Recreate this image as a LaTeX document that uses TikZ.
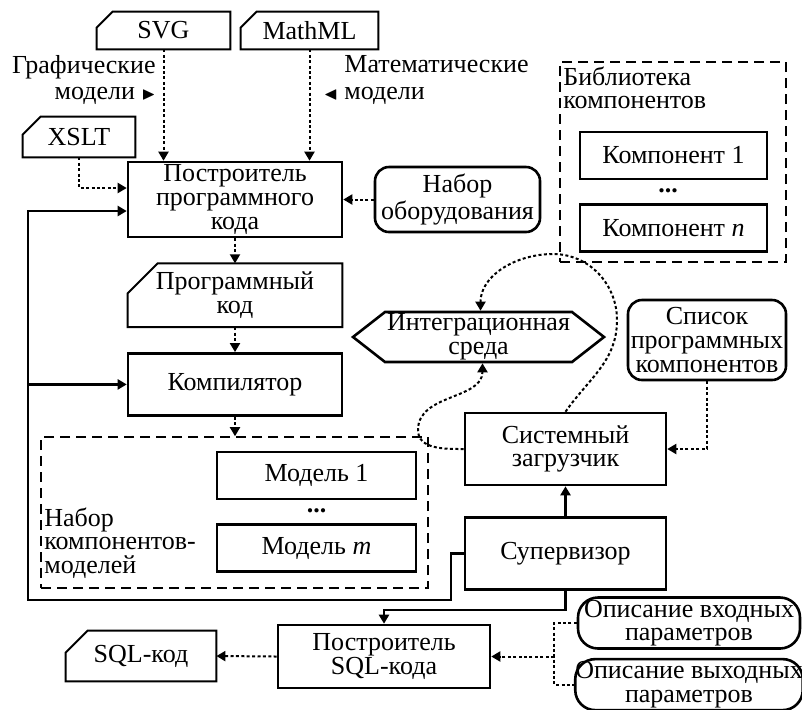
\documentclass[tikz,border=0pt]{standalone}
\usepackage{amssymb}
\usepackage{fontspec}
\setmainfont{Liberation Serif}
\usetikzlibrary{arrows.meta,positioning,calc,shapes.symbols}
\tikzset{
  blk/.style={draw,rectangle,line width=1.3pt,align=center,inner sep=1pt},
  rblk/.style={blk,rounded corners=7pt},
  docblk/.style={rectangle,align=center,inner sep=1pt},
  docln/.style={line width=1pt},
  grpblk/.style={draw,rectangle,line width=0.8pt,dash pattern=on 5pt off 3pt},
  lbl/.style={inner sep=0pt},
  arr/.style={-{Triangle[length=4.5pt,width=5pt]},line width=1.2pt},
  dln/.style={line width=1pt,dash pattern=on 1.5pt off 1.2pt},
  darr/.style={dln,-{Triangle[length=4.5pt,width=5pt]}}
}

\begin{document}
\begin{tikzpicture}[x=0.5pt,y=-0.5pt,font=\fontsize{13}{11.8}\selectfont]
  \useasboundingbox (0,0) rectangle (802,709);

  % documents
  \node[docblk, minimum width=66.5pt, minimum height=18.5pt] (svg) at (163.5,30.5) {SVG};
  \node[docblk, minimum width=68.5pt, minimum height=18.5pt] (mathml) at (309.5,30.5) {MathML};
  \node[docblk, minimum width=56pt, minimum height=20pt] (xslt) at (79,137) {XSLT};

  \node[lbl, align=right, anchor=east] (graflbl) at (156,80) {Графические\\[1.5pt]модели {\small$\blacktriangleright$}};
  \node[lbl, align=left, anchor=west] (mathlbl) at (344,80) {Математические\\[1.5pt]\llap{{\small$\blacktriangleleft$}\ }модели};

  % main column
  \node[blk, minimum width=107pt, minimum height=37.5pt] (builder) at (235,199.5) {Построитель\\программного\\кода};
  \node[docblk, minimum width=107pt, minimum height=31.5pt, below=12.5pt of builder] (prog) {Программный\\код};
  \node[blk, minimum width=107pt, minimum height=31pt, below=12.5pt of prog] (compiler) {Компилятор};
  \node[rblk, minimum width=82.5pt, minimum height=32.5pt] (equip) at (457.5,199.5) {Набор\\оборудования};

  % component library
  \node[grpblk, minimum width=113pt, minimum height=100pt] (library) at (673,162) {};
  \node[lbl, align=left, anchor=north west] (liblbl) at (563,66) {Библиотека\\компонентов};
  \node[blk, minimum width=93.5pt, minimum height=23.5pt] (comp1) at (673.5,155.5) {Компонент 1};
  \node[blk, minimum width=93.5pt, minimum height=23.5pt, below=11.5pt of comp1] (compn) {Компонент \textit{n}};
  \node[lbl] (compdots) at (668,191) {\textbf{...}};

  % model set
  \node[grpblk, minimum width=193.5pt, minimum height=75.5pt] (models) at (234.5,512.5) {};
  \node[lbl, align=left, anchor=west] (modlbl) at (44,543) {Набор\\компонентов-\\моделей};
  \node[blk, minimum width=99.5pt, minimum height=23.5pt] (model1) at (316.5,475.5) {Модель 1};
  \node[blk, minimum width=99.5pt, minimum height=23.5pt, below=11.5pt of model1] (modelm) {Модель \textit{m}};
  \node[lbl] (moddots) at (316.5,511) {\textbf{...}};

  % runtime
  \node[blk, signal, signal to=west and east, signal pointer angle=76, inner sep=0pt,
        minimum width=125.5pt, minimum height=25pt] (integ) at (478.5,337) {Интеграционная\\среда};
  \node[rblk, minimum width=79pt, minimum height=40pt] (complist) at (707,340) {Список\\программных\\компонентов};
  \node[blk, minimum width=100.5pt, minimum height=36pt] (loader) at (565.5,449) {Системный\\загрузчик};
  \node[blk, minimum width=100.5pt, minimum height=36pt, below=15pt of loader] (super) {Супервизор};

  % sql
  \node[blk, minimum width=106pt, minimum height=31.5pt] (sqlb) at (384,656.5) {Построитель\\SQL-кода};
  \node[docblk, minimum width=75pt, minimum height=25pt] (sqlcode) at (141,656) {SQL-код};
  \node[rblk, rounded corners=10pt, inner sep=0pt, minimum width=111pt, minimum height=25.5pt] (inpar) at (689,623) {Описание входных\\параметров};
  \node[rblk, rounded corners=10pt, inner sep=0pt, minimum width=111pt, minimum height=25.5pt, below=4pt of inpar] (outpar) {Описание выходных\\параметров};

  % document outlines
  \foreach \d/\c in {svg/8pt,mathml/8pt,xslt/9pt,prog/15pt,sqlcode/11pt}
    \draw[docln] ($(\d.north west)+(\c,0)$) -- (\d.north east) -- (\d.south east)
      -- (\d.south west) -- ($(\d.north west)+(0,-\c)$) -- cycle;

  % data flow
  \draw[darr] (svg.south) -- (svg.south |- builder.north);
  \draw[darr] (mathml.south) -- (mathml.south |- builder.north);
  \draw[darr] (xslt.south) |- ([yshift=5.75pt]builder.west);
  \draw[darr] (equip.west) -- (builder.east);
  \draw[darr] (builder.south) -- (prog.north);
  \draw[darr] (prog.south) -- (compiler.north);
  \draw[darr] (compiler.south) -- (compiler.south |- models.north);
  \draw[darr] (complist.south) |- (loader.east);
  \draw[darr] (sqlb.west) -- (sqlcode.east);

  \coordinate (parbus) at (554,656.5);
  \draw[dln] (inpar.west) -| (parbus) |- (outpar.west);
  \draw[darr] (parbus) -- (sqlb.east);

  \draw[darr] (loader.north) to[out=55,in=-90] (617,320) to[out=90,in=0] (553,254)
    to[out=180,in=90] ([xshift=1pt]integ.north);
  \draw[darr] (loader.west) to[out=180,in=-90] (418,430) to[out=90,in=-90] ([xshift=2pt]integ.south);

  % control
  \coordinate (loopbl) at (28,600);
  \draw[arr] (super.north) -- (loader.south);
  \draw[arr] (super.west) -- ++(-6.5pt,0) |- (loopbl) |- ([yshift=-5.75pt]builder.west);
  \draw[arr] (loopbl |- compiler.west) -- (compiler.west);
  \draw[arr] (super.south) -- ++(0,-9.5pt) -| (sqlb.north);
\end{tikzpicture}
\end{document}
